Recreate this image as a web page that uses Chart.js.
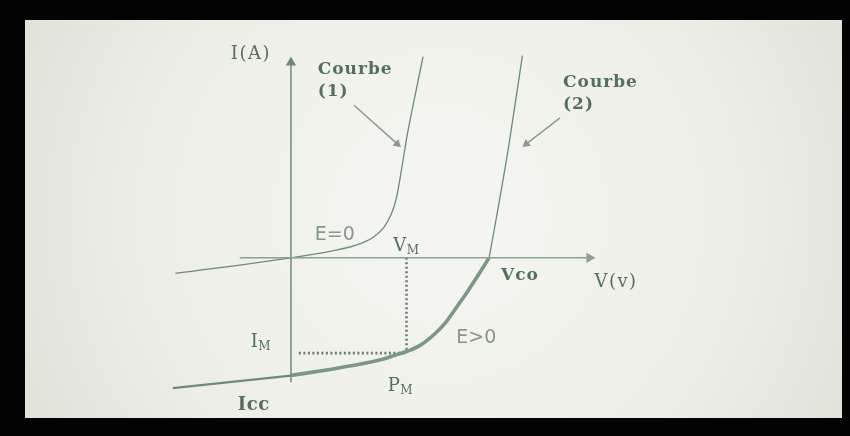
<!DOCTYPE html>
<html>
<head>
<meta charset="utf-8">
<script src="https://cdn.jsdelivr.net/npm/chart.js@4.4.1/dist/chart.umd.min.js"></script>
<style>
  html, body { margin: 0; padding: 0; background: #000; }
  #ivChart { display: block; }
</style>
</head>
<body>
<canvas id="ivChart" width="850" height="436"></canvas>
<script>
// I(V) characteristic of a PV cell (V in volts, I in amperes)

// courbe (1): cell in the dark, E = 0
const darkV = [-0.35, 0, 0.122, 0.197, 0.248, 0.281, 0.304, 0.319, 0.334, 0.352, 0.376, 0.40];
const darkI = [-0.40, 0, 0.175, 0.325, 0.525, 0.775, 1.125, 1.525, 2.225, 3.15, 4.175, 5.175];

// courbe (2): lit cell, E > 0
const reverseV = [-0.358, 0];
const reverseI = [-3.35, -3.025];
const genV = [0, 0.182, 0.281, 0.316, 0.352, 0.391, 0.436, 0.472, 0.501, 0.534, 0.561, 0.60];
const genI = [-3.025, -2.775, -2.6, -2.5, -2.4, -2.25, -1.95, -1.625, -1.275, -0.875, -0.525, 0];
const forwardV = [0.60, 0.621, 0.66, 0.701];
const forwardI = [0, 0.975, 2.9, 5.2];

// remarkable points
const vco = 0.60;
const vm = 0.35;
const im = -2.4;

// text labels: [text, subscript, V, I]
const labelText = ['I(A)', 'Courbe', '(1)', 'Courbe', '(2)', 'E=0', 'V', 'Vco', 'V(v)', 'E>0', 'I', 'P', 'Icc'];
const labelSub  = ['', '', '', '', '', '', 'M', '', '', '', 'M', 'M', ''];
const labelV    = [-0.182, 0.081, 0.081, 0.824, 0.824, 0.072, 0.310, 0.636, 0.919, 0.501, -0.122, 0.293, -0.161];
const labelI    = [5.125, 4.725, 4.15, 4.40, 3.825, 0.45, 0.175, -0.575, -0.75, -2.2, -2.3, -3.425, -3.9];

const lineColor = '#6f8a78';
const thickColor = '#7b9884';
const textColor = '#54705c';

function pts(xs, ys) {
    return xs.map((x, i) => ({ x: x, y: ys[i] }));
}

const panelBackground = {
    id: 'panelBackground',
    beforeDraw(chart) {
        const ctx = chart.ctx;
        ctx.save();
        ctx.fillStyle = '#030303';
        ctx.fillRect(0, 0, chart.width, chart.height);
        const g = ctx.createRadialGradient(440, 215, 60, 440, 215, 470);
        g.addColorStop(0, '#f4f5f0');
        g.addColorStop(0.6, '#eceee6');
        g.addColorStop(1, '#e0e2d8');
        ctx.fillStyle = g;
        ctx.fillRect(25, 20, 817, 398);
        ctx.restore();
    }
};

const textLabels = {
    id: 'textLabels',
    afterDatasetsDraw(chart) {
        const ctx = chart.ctx;
        const xs = chart.scales.x, ys = chart.scales.y;
        ctx.save();
        ctx.textBaseline = 'alphabetic';
        ctx.textAlign = 'left';
        labelText.forEach((t, i) => {
            const px = xs.getPixelForValue(labelV[i]);
            const py = ys.getPixelForValue(labelI[i]);
            let font = '18px "DejaVu Serif"';
            let color = textColor;
            let spacing = '1.5px';
            if (t === 'Courbe' || t === '(1)' || t === '(2)' || t === 'Vco') {
                font = 'bold 17px "DejaVu Serif"';
                spacing = '1px';
            }
            if (t === 'Icc') {
                font = 'bold 18px "DejaVu Serif"';
                spacing = '0.5px';
            }
            if (t === 'E=0' || t === 'E>0') {
                font = '19px "DejaVu Sans"';
                color = '#88968c';
                spacing = '0px';
            }
            ctx.font = font;
            ctx.letterSpacing = spacing;
            ctx.fillStyle = color;
            ctx.fillText(t, px, py);
            if (labelSub[i]) {
                const w = ctx.measureText(t).width;
                ctx.font = '12px "DejaVu Serif"';
                ctx.letterSpacing = '0px';
                ctx.fillText(labelSub[i], px + w - 1, py + 3);
            }
        });
        ctx.restore();
    }
};

new Chart(document.getElementById('ivChart'), {
    type: 'scatter',
    data: {
        datasets: [
            {   // V axis
                data: [{ x: -0.155, y: 0 }, { x: 0.904, y: 0 }],
                borderColor: '#8aa091', borderWidth: 1.5,
                pointRadius: [0, 6], pointStyle: 'triangle', pointRotation: 90,
                pointBackgroundColor: '#8aa091', pointBorderWidth: 0
            },
            {   // I axis
                data: [{ x: 0, y: -3.2 }, { x: 0, y: 5.025 }],
                borderColor: lineColor, borderWidth: 1.5,
                pointRadius: [0, 6], pointStyle: 'triangle', pointRotation: 0,
                pointBackgroundColor: lineColor, pointBorderWidth: 0
            },
            {   // courbe (1)
                data: pts(darkV, darkI),
                borderColor: lineColor, borderWidth: 1.3,
                cubicInterpolationMode: 'monotone', pointRadius: 0
            },
            {
                data: pts(reverseV, reverseI),
                borderColor: lineColor, borderWidth: 2.2, pointRadius: 0
            },
            {   // generator region of courbe (2)
                data: pts(genV, genI),
                borderColor: thickColor, borderWidth: 3.6,
                cubicInterpolationMode: 'monotone', pointRadius: 0
            },
            {
                data: pts(forwardV, forwardI),
                borderColor: lineColor, borderWidth: 1.3,
                cubicInterpolationMode: 'monotone', pointRadius: 0
            },
            {   // V_M drop line
                data: [{ x: vm, y: 0 }, { x: vm, y: im }],
                borderColor: '#74887a', borderWidth: 2.8, borderDash: [2, 2.5], pointRadius: 0
            },
            {   // I_M drop line
                data: [{ x: 0.024, y: im - 0.05 }, { x: vm, y: im - 0.05 }],
                borderColor: '#687d6e', borderWidth: 2.8, borderDash: [2, 2.5], pointRadius: 0
            },
            {   // pointer to courbe (1)
                data: [{ x: 0.191, y: 3.925 }, { x: 0.322, y: 2.93 }],
                borderColor: '#8a9c90', borderWidth: 1.5,
                pointRadius: [0, 5], pointStyle: 'triangle', pointRotation: 132,
                pointBackgroundColor: '#8a9c90', pointBorderWidth: 0
            },
            {   // pointer to courbe (2)
                data: [{ x: 0.815, y: 3.6 }, { x: 0.713, y: 2.93 }],
                borderColor: '#8a9c90', borderWidth: 1.5,
                pointRadius: [0, 5], pointStyle: 'triangle', pointRotation: 231,
                pointBackgroundColor: '#8a9c90', pointBorderWidth: 0
            }
        ]
    },
    options: {
        responsive: false,
        animation: false,
        showLine: true,
        layout: { padding: 0 },
        scales: {
            x: { type: 'linear', min: -0.863, max: 1.675, display: false },
            y: { type: 'linear', min: -4.425, max: 6.475, display: false }
        },
        plugins: {
            legend: { display: false },
            tooltip: { enabled: false }
        },
        events: []
    },
    plugins: [panelBackground, textLabels]
});
</script>
</body>
</html>
